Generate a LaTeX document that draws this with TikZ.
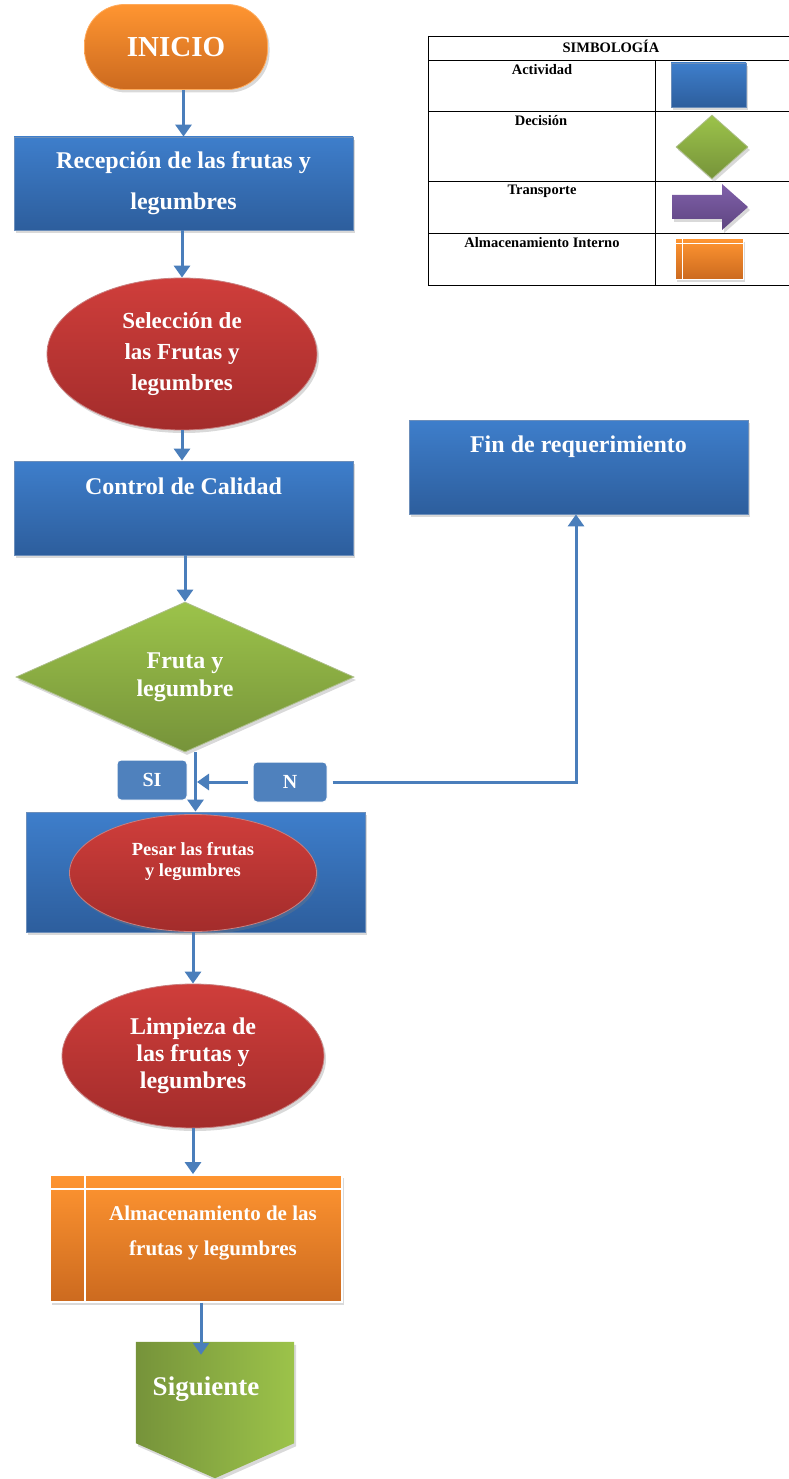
\documentclass[tikz,border=0pt]{standalone}
\usepackage{fontspec}
\setmainfont{Liberation Serif}
\usetikzlibrary{shapes.geometric,arrows.meta,shadows,calc}
\definecolor{actTop}{RGB}{62,126,203}
\definecolor{actBot}{RGB}{45,94,157}
\definecolor{redTop}{RGB}{207,62,59}
\definecolor{redBot}{RGB}{163,44,43}
\definecolor{grnTop}{RGB}{156,195,74}
\definecolor{grnBot}{RGB}{118,147,58}
\definecolor{orgTop}{RGB}{255,149,49}
\definecolor{orgBot}{RGB}{204,106,31}
\definecolor{purTop}{RGB}{128,96,170}
\definecolor{purBot}{RGB}{94,69,128}
\definecolor{siBlue}{RGB}{79,129,189}
\definecolor{arrowblue}{RGB}{74,126,187}
\begin{document}
\begin{tikzpicture}[x=1pt,y=-1pt,
  arr/.style={draw=arrowblue, line width=3pt, -{Triangle[width=16pt,length=12pt]}},
  shad/.style={drop shadow={opacity=0.3,shadow xshift=2pt,shadow yshift=-3pt}},
  wtxt/.style={text=white, align=center},
  actbox/.style={rectangle, shad, top color=actTop, bottom color=actBot, draw=actBot!70!white, line width=0.8pt, inner sep=0pt, wtxt},
  redell/.style={ellipse, shad, top color=redTop, bottom color=redBot, draw=redBot!60!white, line width=0.8pt, inner sep=0pt, wtxt},
  grndia/.style={diamond, aspect=2.25, shad, top color=grnTop, bottom color=grnBot, draw=grnBot!60!white, line width=0.8pt, inner sep=0pt, wtxt},
  orgshape/.style={shad, top color=orgTop, bottom color=orgBot, draw=white, line width=1.8pt},
  tagbox/.style={rectangle, rounded corners=4pt, fill=siBlue, draw=white, line width=1pt, wtxt, inner sep=0pt},
  legtxt/.style={font=\bfseries\fontsize{14.5}{16}\selectfont, inner sep=0pt},
  big/.style={font=\bfseries\fontsize{24}{#1}\selectfont},
]
\useasboundingbox (0,0) rectangle (788,1479);

% ---------- main flow ----------
\node[rectangle, rounded corners=40pt, shad, top color=orgTop, bottom color=orgBot, draw=orgTop!80!white, line width=0.8pt, wtxt,
      minimum width=183, minimum height=85, inner sep=0pt, font=\bfseries\fontsize{29}{32}\selectfont] (ini) at (176,47) {INICIO};

\node[actbox, minimum width=339, minimum height=93, big=41] (rec) at (183.5,183.5) {Recepción de las frutas y\\legumbres};

\node[redell, minimum width=270, minimum height=152, font=\bfseries\fontsize{23}{31}\selectfont] (sel) at (182,354) {Selección de\\las Frutas y\\legumbres};

\node[actbox, minimum width=339, minimum height=94] (ctrl) at (183.5,508) {};
\node[wtxt, big=26] (ctrlt) at ([yshift=-26]ctrl.north) {Control de Calidad};

\node[grndia, minimum width=338, minimum height=150, big=28] (dia) at (185,677) {Fruta y\\legumbre};

\node[tagbox, minimum width=70, minimum height=40, font=\bfseries\fontsize{20}{22}\selectfont] (si) at (152,780) {SI};
\node[tagbox, minimum width=74, minimum height=40, font=\bfseries\fontsize{20}{22}\selectfont] (nb) at (290,782) {N};

\node[actbox, minimum width=339, minimum height=94] (fin) at (578.5,467) {};
\node[wtxt, big=26] (fint) at ([yshift=-27]fin.north) {Fin de requerimiento};

\node[actbox, minimum width=339, minimum height=120] (pes) at (195.5,872) {};
\node[redell, minimum width=247, minimum height=117, font=\bfseries\fontsize{18.5}{21}\selectfont] (pese) at (193,873) {Pesar las frutas\\y legumbres\\[6pt]};

\node[redell, minimum width=262, minimum height=144, big=27] (limp) at (193,1056) {Limpieza de\\las frutas y\\legumbres};

\node[rectangle, orgshape, minimum width=292, minimum height=127, inner sep=0pt] (alm) at (196,1238.5) {};
\draw[white, line width=1.8pt] ([yshift=-15]alm.north west) -- ([yshift=-15]alm.north east);
\draw[white, line width=1.8pt] ([xshift=36]alm.north west) -- ([xshift=36]alm.south west);
\node[wtxt, font=\bfseries\fontsize{21}{35}\selectfont] (almt) at (213,1233) {Almacenamiento de las\\frutas y legumbres};

\node[rectangle, minimum width=158, minimum height=101, inner sep=0pt] (sig) at (215,1392.5) {};
\shade[left color=grnBot, right color=grnTop, shad] (sig.north west) -- (sig.north east) -- (sig.south east) -- ($(sig.south)+(0,35)$) -- (sig.south west) -- cycle;
\node[wtxt, font=\bfseries\fontsize{27}{30}\selectfont] (sigt) at (206,1389) {Siguiente};

% ---------- connectors ----------
\draw[arr] (ini.south -| rec.north) -- (rec.north);
\draw[arr] (rec.south -| sel.north) -- (sel.north);
\draw[arr] (sel.south) -- (sel.south |- ctrl.north);
\draw[arr] (ctrl.south -| dia.north) -- (dia.north);
\draw[arr] (dia.south -| pes.north) -- (pes.north);
\draw[arr, shorten <=5pt, shorten >=1.5pt] (nb.west) -- (nb.west -| pes.north);
\draw[arr, shorten <=5pt] (nb.east) -| ([xshift=-2.5]fin.south);
\draw[arr] (pes.south -| limp.north) -- (limp.north);
\draw[arr] (limp.south) -- (limp.south |- alm.north);
\draw[arr] ([xshift=5]alm.south) -- ($(sig.north)+(-14,13)$);

% ---------- legend ----------
\draw[black, line width=0.8pt] (428,36) -- (790,36) (428,36) -- (428,285) -- (790,285);
\foreach \yy in {60,111,181,233} \draw[black, line width=0.8pt] (428,\yy) -- (790,\yy);
\draw[black, line width=0.8pt] (655,60) -- (655,285);
\node[legtxt] (lh) at (611,46) {SIMBOLOGÍA};
\node[legtxt] (l1) at (542,70) {Actividad};
\node[legtxt] (l2) at (541,121) {Decisión};
\node[legtxt] (l3) at (542,191) {Transporte};
\node[legtxt] (l4) at (542,243) {Almacenamiento Interno};

\node[actbox, minimum width=75, minimum height=44] (s1) at (708.5,85) {};
\node[grndia, aspect=1.1, minimum width=72, minimum height=64] (s2) at (712,147) {};
\shade[top color=purTop, bottom color=purBot, shad] (672,195) -- (722,195) -- (722,184) -- (748,207) -- (722,230) -- (722,219) -- (672,219) -- cycle;
\node[rectangle, orgshape, line width=1pt, minimum width=68, minimum height=40, inner sep=0pt] (s4) at (709,259) {};
\draw[white, line width=1pt] ([yshift=-5]s4.north west) -- ([yshift=-5]s4.north east);
\draw[white, line width=1pt] ([xshift=8]s4.north west) -- ([xshift=8]s4.south west);
\end{tikzpicture}
\end{document}
